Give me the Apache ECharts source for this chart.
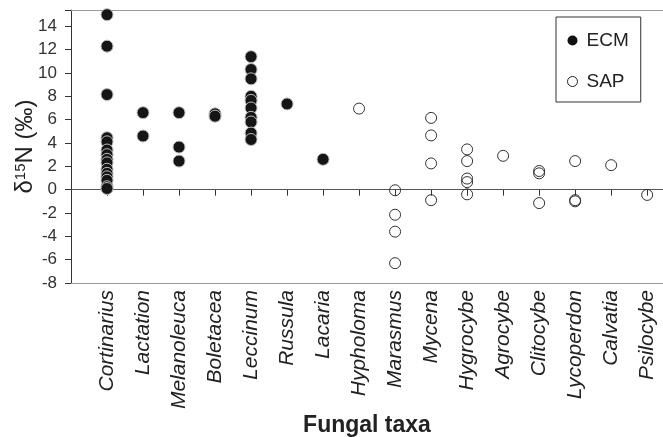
<!DOCTYPE html>
<html><head><meta charset="utf-8">
<script src="https://cdn.jsdelivr.net/npm/echarts@6/dist/echarts.min.js"></script>
<style>html,body{margin:0;padding:0;background:#fff}#c{width:663px;height:437px}</style>
</head><body><div id="c"></div>
<script>
var categories = ['Cortinarius','Lactation','Melanoleuca','Boletacea','Leccinum','Russula','Lacaria','Hypholoma','Marasmus','Mycena','Hygrocybe','Agrocybe','Clitocybe','Lycoperdon','Calvatia','Psilocybe'];
var ecmValues = {
  Cortinarius: [15.0, 12.3, 8.15, 4.45, 4.1, 3.4, 3.0, 2.6, 2.3, 1.75, 1.4, 1.1, 0.8, 0.25, 0.1],
  Lactation: [6.6, 4.6],
  Melanoleuca: [6.6, 3.65, 2.45],
  Boletacea: [6.5, 6.3],
  Leccinum: [11.4, 10.3, 9.5, 8.0, 7.65, 7.0, 6.2, 5.8, 4.85, 4.3],
  Russula: [7.35],
  Lacaria: [2.6]
};
var sapValues = {
  Hypholoma: [6.95],
  Marasmus: [-0.05, -2.15, -3.6, -6.3],
  Mycena: [6.15, 4.65, 2.25, -0.9],
  Hygrocybe: [3.45, 2.45, 0.95, 0.65, -0.4],
  Agrocybe: [2.9],
  Clitocybe: [1.6, 1.4, -1.15],
  Lycoperdon: [2.45, -0.9, -1.0],
  Calvatia: [2.1],
  Psilocybe: [-0.45]
};
var yTicks = {min: -8, max: 15.4, interval: 2};

function toPoints(obj) {
  var pts = [];
  Object.keys(obj).forEach(function (k) {
    var xi = categories.indexOf(k) + 1;
    obj[k].forEach(function (v) { pts.push([xi, v]); });
  });
  return pts;
}
var font = 'Arial, "Liberation Sans", sans-serif';
var xCommon = {type: 'value', min: 0, max: 16.44, interval: 1, splitLine: {show: false}};
var chart = echarts.init(document.getElementById('c'), null, {renderer: 'canvas'});
chart.setOption({
  animation: false,
  backgroundColor: '#fff',
  grid: {left: 71, right: 0, top: 10, bottom: 154, containLabel: false, outerBoundsMode: 'none'},
  legend: {
    orient: 'vertical', left: 556, top: 17,
    padding: [14, 12, 11, 11], itemGap: 22, itemWidth: 18, itemHeight: 10,
    borderColor: '#333', borderWidth: 1, backgroundColor: '#fff',
    textStyle: {fontFamily: font, fontSize: 19, color: '#222'},
    data: [
      {name: 'ECM', icon: 'circle', itemStyle: {color: '#111', borderColor: '#111', borderWidth: 0}},
      {name: 'SAP', icon: 'circle', itemStyle: {color: '#fff', borderColor: '#222', borderWidth: 1}}
    ]
  },
  xAxis: [
    Object.assign({}, xCommon, {
      position: 'bottom',
      axisLine: {show: true, onZero: true, lineStyle: {color: '#555', width: 1}},
      axisTick: {show: true, length: 6, lineStyle: {color: '#333'}},
      axisLabel: {show: false}
    }),
    Object.assign({}, xCommon, {
      position: 'bottom',
      axisLine: {show: true, onZero: false, lineStyle: {color: '#999', width: 1}},
      axisTick: {show: false},
      axisLabel: {
        show: true, rotate: 90, margin: 7, interval: 0,
        fontFamily: font, fontStyle: 'italic', fontSize: 21, color: '#222',
        formatter: function (v) {
          if (Math.abs(v - Math.round(v)) > 1e-6) return '';
          return categories[Math.round(v) - 1] || '';
        }
      },
      name: 'Fungal taxa', nameLocation: 'middle', nameGap: 131, nameMoveOverlap: false,
      nameTextStyle: {fontFamily: font, fontSize: 23, fontWeight: 'bold', color: '#222'}
    }),
    Object.assign({}, xCommon, {
      position: 'top',
      axisLine: {show: true, onZero: false, lineStyle: {color: '#999', width: 1}},
      axisTick: {show: false},
      axisLabel: {show: false}
    })
  ],
  yAxis: {
    type: 'value', min: yTicks.min, max: yTicks.max, interval: yTicks.interval,
    axisLine: {show: true, onZero: false, lineStyle: {color: '#333', width: 1}},
    axisTick: {show: true, length: 6, lineStyle: {color: '#333'}},
    splitLine: {show: false},
    axisLabel: {
      fontFamily: font, fontSize: 17, color: '#333', margin: 14,
      formatter: function (v) { return (Math.abs(v - Math.round(v)) > 1e-6) ? '' : String(v); }
    },
    name: '{a|δ}{s|15}{a|N (‰)}', nameLocation: 'middle', nameGap: 34, nameRotate: 90,
    nameMoveOverlap: false,
    nameTextStyle: {
      rich: {
        a: {fontFamily: font, fontSize: 24, color: '#222'},
        s: {fontFamily: font, fontSize: 15, color: '#222', verticalAlign: 'top', padding: [0, 0, 9, 0]}
      }
    }
  },
  series: [
    {
      name: 'ECM', type: 'scatter', xAxisIndex: 0, data: toPoints(ecmValues),
      symbol: 'circle', symbolSize: 12,
      itemStyle: {color: '#151515', borderColor: '#bbb', borderWidth: 1, opacity: 1}
    },
    {
      name: 'SAP', type: 'scatter', xAxisIndex: 0, data: toPoints(sapValues),
      symbol: 'circle', symbolSize: 11,
      itemStyle: {color: 'rgba(255,255,255,0)', borderColor: '#333', borderWidth: 1, opacity: 1}
    }
  ]
});
</script></body></html>
